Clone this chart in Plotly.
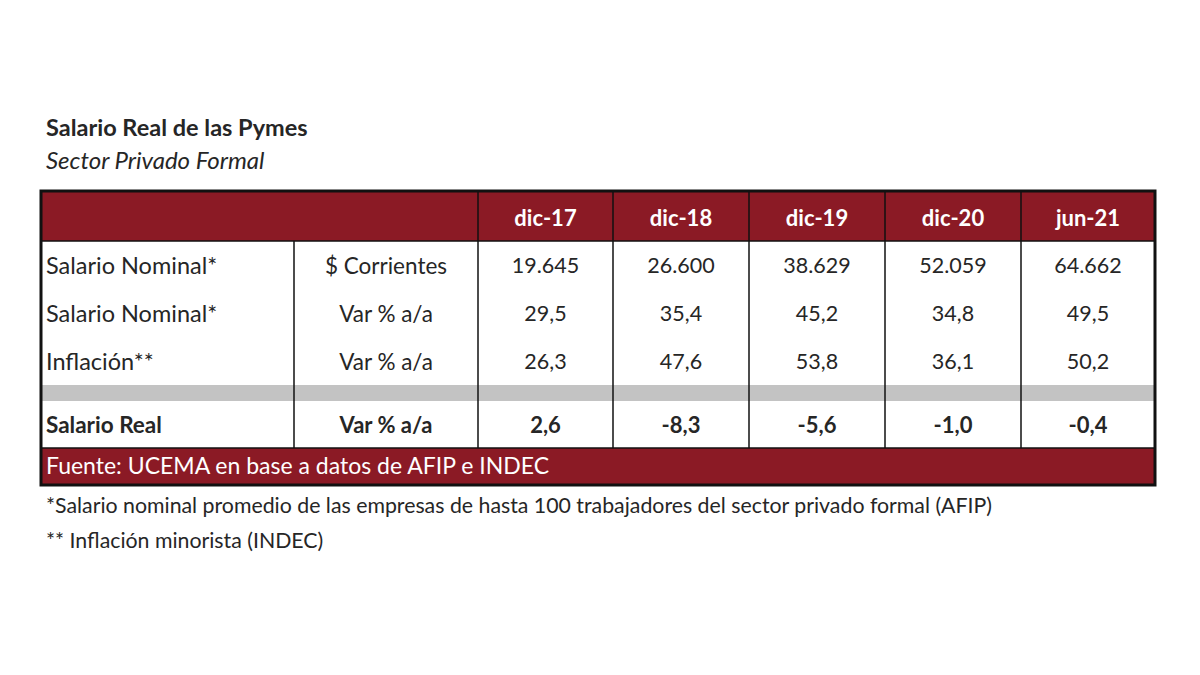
import plotly.graph_objects as go

# Table content
PERIODS = ["dic-17", "dic-18", "dic-19", "dic-20", "jun-21"]
ROW_LABELS = ["Salario Nominal*", "Salario Nominal*", "Inflación**"]
ROW_UNITS = ["$ Corrientes", "Var % a/a", "Var % a/a"]
SALARIO_NOMINAL = [19645, 26600, 38629, 52059, 64662]
SALARIO_NOMINAL_VAR = [29.5, 35.4, 45.2, 34.8, 49.5]
INFLACION = [26.3, 47.6, 53.8, 36.1, 50.2]
REAL_LABEL = "Salario Real"
REAL_UNIT = "Var % a/a"
SALARIO_REAL = [2.6, -8.3, -5.6, -1.0, -0.4]

TITLE = "Salario Real de las Pymes"
SUBTITLE = "Sector Privado Formal"
SOURCE = "Fuente: UCEMA en base a datos de AFIP e INDEC"
NOTES = [
    "*Salario nominal promedio de las empresas de hasta 100 trabajadores del sector privado formal (AFIP)",
    "** Inflación minorista (INDEC)",
]

# Layout (pixel space of the 1200x675 page; the page body has an 8px margin)
W, H = 1200, 675
PAGE_MARGIN = 8
COL_EDGES = [41, 294, 478, 613, 749, 885, 1021, 1155]
TABLE_TOP = 191
HEADER_BOTTOM = 241
BODY_ROW_H = 48
GAP_H = 16
REAL_ROW_H = 47
FOOTER_H = 37
TEXT_X = 46
TEXT_DY = 3  # Lato sits a bit high when centred, nudge it down

RED = "#8B1A25"
GREY = "#C3C3C3"
INK = "#262626"
FONT = "Lato"


def miles(v):
    return f"{v:,.0f}".replace(",", ".")


def decimal(v):
    return f"{v:.1f}".replace(".", ",")


body_rows = [
    [miles(v) for v in SALARIO_NOMINAL],
    [decimal(v) for v in SALARIO_NOMINAL_VAR],
    [decimal(v) for v in INFLACION],
]

# row geometry
body_edges = [HEADER_BOTTOM + i * BODY_ROW_H for i in range(len(body_rows) + 1)]
gap_top = body_edges[-1]
real_top = gap_top + GAP_H
real_bottom = real_top + REAL_ROW_H
footer_bottom = real_bottom + FOOTER_H
row_mid = [(a + b) / 2 + TEXT_DY for a, b in zip(body_edges[:-1], body_edges[1:])]
real_mid = (real_top + real_bottom) / 2 + TEXT_DY
col_mid = [(a + b) / 2 for a, b in zip(COL_EDGES[:-1], COL_EDGES[1:])]
left, right = COL_EDGES[0], COL_EDGES[-1]

fig = go.Figure()

shapes = [
    dict(type="rect", x0=left, x1=right, y0=TABLE_TOP, y1=HEADER_BOTTOM,
         fillcolor=RED, line_width=0, layer="below"),
    dict(type="rect", x0=left, x1=right, y0=gap_top, y1=real_top,
         fillcolor=GREY, line_width=0, layer="below"),
    dict(type="rect", x0=left, x1=right, y0=real_bottom, y1=footer_bottom,
         fillcolor=RED, line_width=0, layer="below"),
]
# vertical cell borders
for i, x in enumerate(COL_EDGES[1:-1], start=1):
    y0 = HEADER_BOTTOM if i == 1 else TABLE_TOP
    shapes.append(dict(type="line", x0=x, x1=x, y0=y0, y1=real_bottom,
                       line=dict(color="#111", width=1.5)))
# horizontal borders
for y in (HEADER_BOTTOM, real_bottom):
    shapes.append(dict(type="line", x0=left, x1=right, y0=y, y1=y,
                       line=dict(color="#111", width=1.5)))
# outer frame
shapes.append(dict(type="rect", x0=left, x1=right, y0=TABLE_TOP, y1=footer_bottom,
                   line=dict(color="#111", width=3)))


def text_trace(x, y, text, size, color=INK, position="middle center"):
    return go.Scatter(x=x, y=y, text=text, mode="text", textposition=position,
                      textfont=dict(family=FONT, size=size, color=color),
                      hoverinfo="skip")


# header
fig.add_trace(text_trace(col_mid[2:], [(TABLE_TOP + HEADER_BOTTOM) / 2 + TEXT_DY + 1] * len(PERIODS),
                         [f"<b>{p}</b>" for p in PERIODS], 22, "white"))
# row labels and units
fig.add_trace(text_trace([TEXT_X] * len(ROW_LABELS), row_mid, ROW_LABELS, 23.5,
                         position="middle right"))
fig.add_trace(text_trace([col_mid[1]] * len(ROW_UNITS), row_mid, ROW_UNITS, 22.5))
# values
for r, vals in enumerate(body_rows):
    fig.add_trace(text_trace(col_mid[2:], [row_mid[r]] * len(vals), vals, 21.5))
# salario real row
fig.add_trace(text_trace([TEXT_X], [real_mid], [f"<b>{REAL_LABEL}</b>"], 22.5,
                         position="middle right"))
fig.add_trace(text_trace(col_mid[1:], [real_mid] * (len(SALARIO_REAL) + 1),
                         [f"<b>{REAL_UNIT}</b>"] + [f"<b>{decimal(v)}</b>" for v in SALARIO_REAL],
                         22))
# source row
fig.add_trace(text_trace([TEXT_X], [(real_bottom + footer_bottom) / 2 + TEXT_DY - 1], [SOURCE], 23,
                         "white", "middle right"))
# footnotes
fig.add_trace(text_trace([TEXT_X] * len(NOTES), [505 + TEXT_DY, 540 + TEXT_DY], NOTES, 21.3,
                         position="middle right"))
# title block
fig.add_trace(text_trace([TEXT_X], [127 + TEXT_DY], [f"<b>{TITLE}</b>"], 23.5,
                         position="middle right"))
fig.add_trace(text_trace([TEXT_X], [160 + TEXT_DY], [f"<i>{SUBTITLE}</i>"], 24,
                         position="middle right"))

fig.update_layout(
    width=W - PAGE_MARGIN, height=H - PAGE_MARGIN,
    margin=dict(l=0, r=0, t=0, b=0),
    paper_bgcolor="white", plot_bgcolor="white",
    showlegend=False,
    shapes=shapes,
    xaxis=dict(range=[PAGE_MARGIN, W], visible=False, fixedrange=True),
    yaxis=dict(range=[H, PAGE_MARGIN], visible=False, fixedrange=True),
)

fig.write_html("out.html")
